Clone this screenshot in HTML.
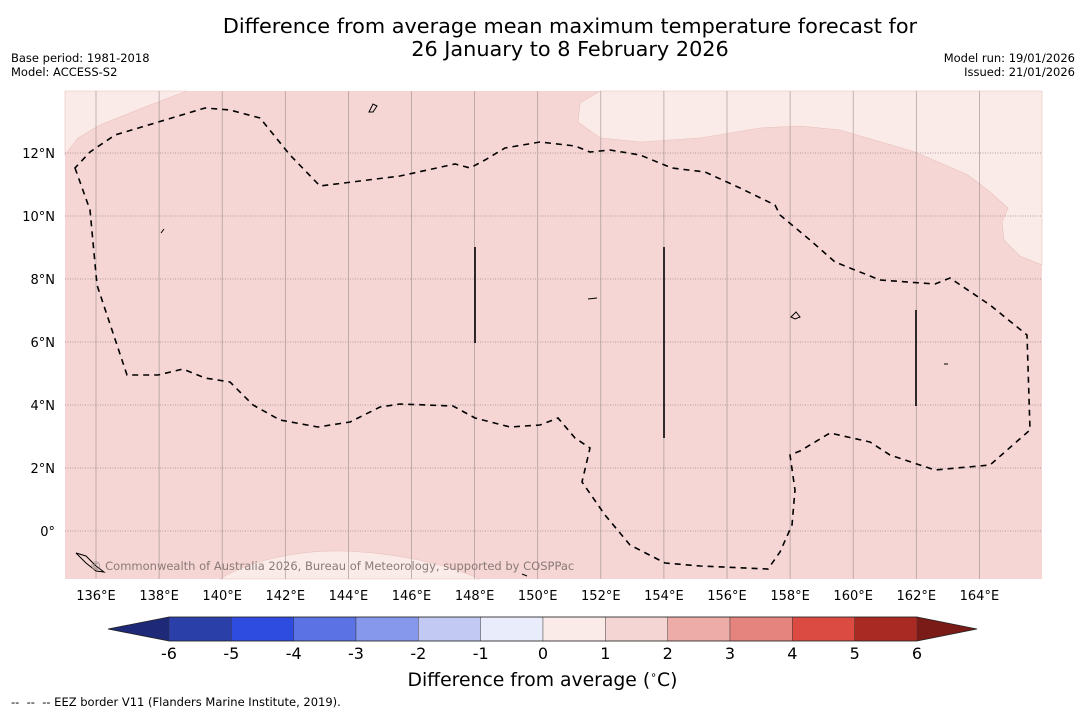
<!DOCTYPE html>
<html><head><meta charset="utf-8"><style>
html,body{margin:0;padding:0;background:#fff;}
body{width:1085px;height:713px;position:relative;overflow:hidden;font-family:"DejaVu Sans","Liberation Sans",sans-serif;color:#000;}
.t{position:absolute;white-space:nowrap;}
</style></head><body>
<div class="t" style="left:0;width:1140px;text-align:center;top:15px;font-size:20.8px;line-height:23px;">Difference from average mean maximum temperature forecast for<br>26 January to 8 February 2026</div>
<div class="t" style="left:11px;top:51px;font-size:11.5px;line-height:14px;">Base period: 1981-2018<br>Model: ACCESS-S2</div>
<div class="t" style="right:10px;top:51px;font-size:11.5px;line-height:14px;text-align:right;">Model run: 19/01/2026<br>Issued: 21/01/2026</div>
<svg id="map" width="1085" height="713" style="position:absolute;left:0;top:0;" xmlns="http://www.w3.org/2000/svg">
<rect x="65" y="91" width="977" height="488" fill="#f5d6d4"/>
<polygon fill="#fbebe8" stroke="#e8c0bc" stroke-width="0.6" points="65,91 187,91 150,105 100,125 78,138 65,155"/>
<polygon fill="#fbebe8" stroke="#e8c0bc" stroke-width="0.6" points="600,91 580,103 578,122 600,138 640,142 700,138 760,128 800,126 840,130 915,152 968,175 990,192 1008,208 1002,222 1004,240 1020,256 1042,265 1042,91"/>
<path fill="#fbebe8" stroke="#e8c0bc" stroke-width="0.6" d="M220,579 C250,560 300,550 340,551 C390,552 440,562 480,579 Z"/>
<g id="grid"></g>
<path fill="none" stroke="#000" stroke-width="1.6" stroke-dasharray="6,5" d="M75,168 L90,210 L97,285 L127,375 L158,375 L183,369 L205,378 L230,382 L253,405 L280,420 L318,427 L350,422 L380,407 L400,404 L453,406 L475,418 L510,427 L540,425 L558,418 L575,438 L590,448 L582,482 L605,515 L630,545 L665,563 L700,566 L768,569 L780,552 L792,525 L795,490 L790,455 L800,451 L830,433 L870,442 L890,455 L935,470 L990,465 L1030,430 L1027,335 L990,305 L950,278 L935,284 L880,280 L835,262 L810,240 L780,215 L775,205 L740,188 L705,172 L672,168 L640,155 L610,150 L590,152 L575,146 L540,142 L505,148 L485,160 L470,168 L455,164 L400,176 L320,186 L290,155 L260,118 L230,110 L205,108 L165,120 L115,135 L90,152 Z"/>
<g stroke="#000" stroke-width="1.6">
<line x1="475" y1="247" x2="475" y2="343"/><line x1="664" y1="247" x2="664" y2="438"/><line x1="916" y1="310" x2="916" y2="406"/>
</g>
<g fill="none" stroke="#000" stroke-width="1">
<path d="M76,553 L86,556 L96,566 L104,572 L96,571 L86,563 Z"/>
<path d="M369,112 L373,104 L377,106 L373,112 Z"/>
<path d="M161,233 L164,229"/><path d="M791,317 L796,312 L800,317 L795,319 Z"/><path d="M588,299 L597,298"/><path d="M944,364 L948,364"/><path d="M522,574 L527,576"/>
</g>
<text x="90" y="570" font-size="11.5" fill="#8a7a78" font-family="DejaVu Sans, Liberation Sans, sans-serif">© Commonwealth of Australia 2026, Bureau of Meteorology, supported by COSPPac</text>
<g id="labels" font-size="13" font-family="DejaVu Sans, Liberation Sans, sans-serif"></g>
<g id="cbar"></g>
</svg>
<div class="t" style="left:0;width:1085px;text-align:center;top:669px;font-size:18.8px;"><span style="position:relative;left:0px;">Difference from average (<sup style="font-size:11px">∘</sup>C)</span></div>
<div class="t" style="left:11px;top:695px;font-size:11.5px;">-- &nbsp;-- &nbsp;-- EEZ border V11 (Flanders Marine Institute, 2019).</div>
<script>
var lonTicks=[136,138,140,142,144,146,148,150,152,154,156,158,160,162,164];
var latTicks=[12,10,8,6,4,2,0];
var levels=[-6,-5,-4,-3,-2,-1,0,1,2,3,4,5,6];
var levelColors=["#2a3fa8","#2e4de0","#5a72e4","#8598ec","#c2c9f3","#e9ecfa","#fbebe8","#f5d5d3","#edaca8","#e5847e","#db4b42","#a82a22"];
var NS="http://www.w3.org/2000/svg";
function xLon(l){return 96+(l-136)*31.55;}
function yLat(l){return 531-l*31.5;}
function mk(t,a,p){var e=document.createElementNS(NS,t);for(var k in a)e.setAttribute(k,a[k]);p.appendChild(e);return e;}
var grid=document.getElementById('grid'),lab=document.getElementById('labels'),cb=document.getElementById('cbar');
lonTicks.forEach(function(l){
 var g=mk('line',{x1:xLon(l),x2:xLon(l),y1:91,y2:579,stroke:'#a89898','stroke-width':0.7},grid);
 
 
 var t=mk('text',{x:xLon(l),y:600,'text-anchor':'middle'},lab);t.textContent=l+'°E';
 
 
});
latTicks.forEach(function(l){
 var g=mk('line',{x1:65,x2:1042,y1:yLat(l),y2:yLat(l),stroke:'#9a8a8a','stroke-width':0.8,'stroke-dasharray':'1,1.5'},grid);
 
 
 var t=mk('text',{x:55,y:yLat(l)+5,'text-anchor':'end'},lab);t.textContent=l===0?'0°':l+'°N';
 
 
});
var c0=169,c1=917,cy=617,ch=24;
function xLev(v){return c0+(v-levels[0])/(levels[levels.length-1]-levels[0])*(c1-c0);}
var tl=mk('polygon',{points:(108)+','+(cy+ch/2)+' '+c0+','+cy+' '+c0+','+(cy+ch),fill:'#1e2a78'},cb);


var tr=mk('polygon',{points:(977)+','+(cy+ch/2)+' '+c1+','+cy+' '+c1+','+(cy+ch),fill:'#7a1b17'},cb);


for(var i=0;i<levelColors.length;i++){
 var r=mk('rect',{x:xLev(levels[i]),y:cy,width:xLev(levels[i+1])-xLev(levels[i]),height:ch,fill:levelColors[i],stroke:'#333','stroke-width':0.4},cb);
 
 
}
var o=mk('polygon',{points:'108,'+(cy+ch/2)+' '+c0+','+cy+' '+c1+','+cy+' 977,'+(cy+ch/2)+' '+c1+','+(cy+ch)+' '+c0+','+(cy+ch),fill:'none',stroke:'#222','stroke-width':0.8},cb);


levels.forEach(function(v){
 var t=mk('text',{x:xLev(v),y:659,'text-anchor':'middle','font-size':16,'font-family':'DejaVu Sans, Liberation Sans, sans-serif'},cb);t.textContent=v;
 
 
});
</script>
</body></html>
